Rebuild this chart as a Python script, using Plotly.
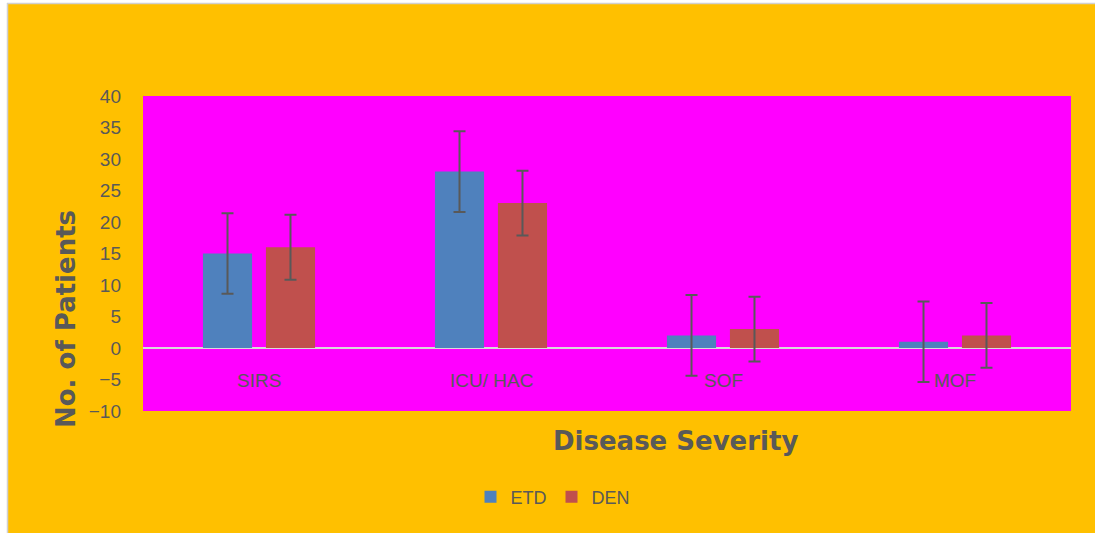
import plotly.graph_objects as go

categories = ["SIRS", "ICU/ HAC", "SOF", "MOF"]
etd = [15, 28, 2, 1]
den = [16, 23, 3, 2]
etd_err = [6.4, 6.4, 6.4, 6.4]
den_err = [5.15, 5.15, 5.15, 5.15]
y_ticks = [-10, -5, 0, 5, 10, 15, 20, 25, 30, 35, 40]

GRAY = "#595959"

fig = go.Figure()
fig.add_trace(go.Bar(
    x=categories, y=etd, name="ETD", marker=dict(color="#4F81BD", line=dict(width=0)),
    error_y=dict(type="data", array=etd_err, color=GRAY, thickness=2, width=6),
))
fig.add_trace(go.Bar(
    x=categories, y=den, name="DEN", marker=dict(color="#C0504D", line=dict(width=0)),
    error_y=dict(type="data", array=den_err, color=GRAY, thickness=2, width=6),
))

W, H = 1095, 533
L, R, T, B = 143, 24, 96, 122
pw, ph = W - L - R, H - T - B

def px_x(p):
    return (p - L) / pw

def px_y(p):
    return (H - B - p) / ph

shapes = [
    # white strips outside the chart frame (left and top)
    dict(type="rect", xref="paper", yref="paper", layer="above",
         x0=px_x(-2), x1=px_x(7), y0=px_y(H + 2), y1=px_y(-2),
         fillcolor="white", line=dict(width=0)),
    dict(type="rect", xref="paper", yref="paper", layer="above",
         x0=px_x(-2), x1=px_x(W + 2), y0=px_y(3), y1=px_y(-2),
         fillcolor="white", line=dict(width=0)),
    # light gray frame lines
    dict(type="line", xref="paper", yref="paper", layer="above",
         x0=px_x(7.5), x1=px_x(7.5), y0=px_y(H + 2), y1=px_y(3),
         line=dict(color="#D0D0D0", width=1.5)),
    dict(type="line", xref="paper", yref="paper", layer="above",
         x0=px_x(7), x1=px_x(W + 2), y0=px_y(3.5), y1=px_y(3.5),
         line=dict(color="#D0D0D0", width=1.5)),
]

annotations = [
    dict(x=c, y=-5.1, xref="x", yref="y", text=c, showarrow=False,
         font=dict(family="Liberation Sans", size=19, color=GRAY), yanchor="middle")
    for c in categories
]
annotations.append(dict(x=px_x(675), y=px_y(441), xref="paper", yref="paper",
                        text="<b>Disease Severity</b>", showarrow=False,
                        font=dict(family="DejaVu Sans", size=26, color=GRAY),
                        xanchor="center", yanchor="middle"))
annotations.append(dict(x=px_x(66), y=px_y(319), xref="paper", yref="paper",
                        text="<b>No. of Patients</b>", showarrow=False, textangle=-90,
                        font=dict(family="DejaVu Sans", size=26, color=GRAY),
                        xanchor="center", yanchor="middle"))

fig.update_layout(
    width=W, height=H,
    margin=dict(l=L, r=R, t=T, b=B),
    paper_bgcolor="#FFC000",
    plot_bgcolor="#FF00FF",
    barmode="group", bargap=0.457, bargroupgap=0.22,
    showlegend=True,
    legend=dict(orientation="h", x=px_x(553), y=px_y(497), xanchor="center", yanchor="middle",
                font=dict(family="Liberation Sans", size=18, color=GRAY),
                bgcolor="rgba(0,0,0,0)", itemwidth=30, traceorder="normal"),
    xaxis=dict(showticklabels=False, showgrid=False, showline=False, ticks="", zeroline=False),
    yaxis=dict(range=[-10, 40], tickvals=y_ticks, showgrid=False, showline=False,
               zeroline=True, zerolinecolor="#D9D9D9", zerolinewidth=2,
               tickfont=dict(family="Liberation Sans", size=19, color=GRAY),
               ticklabelstandoff=21),
    shapes=shapes,
    annotations=annotations,
)

fig.write_html(
    "out.html",
    config={"displayModeBar": False},
    post_script="document.body.style.margin='0';document.documentElement.style.overflow='hidden';",
)
